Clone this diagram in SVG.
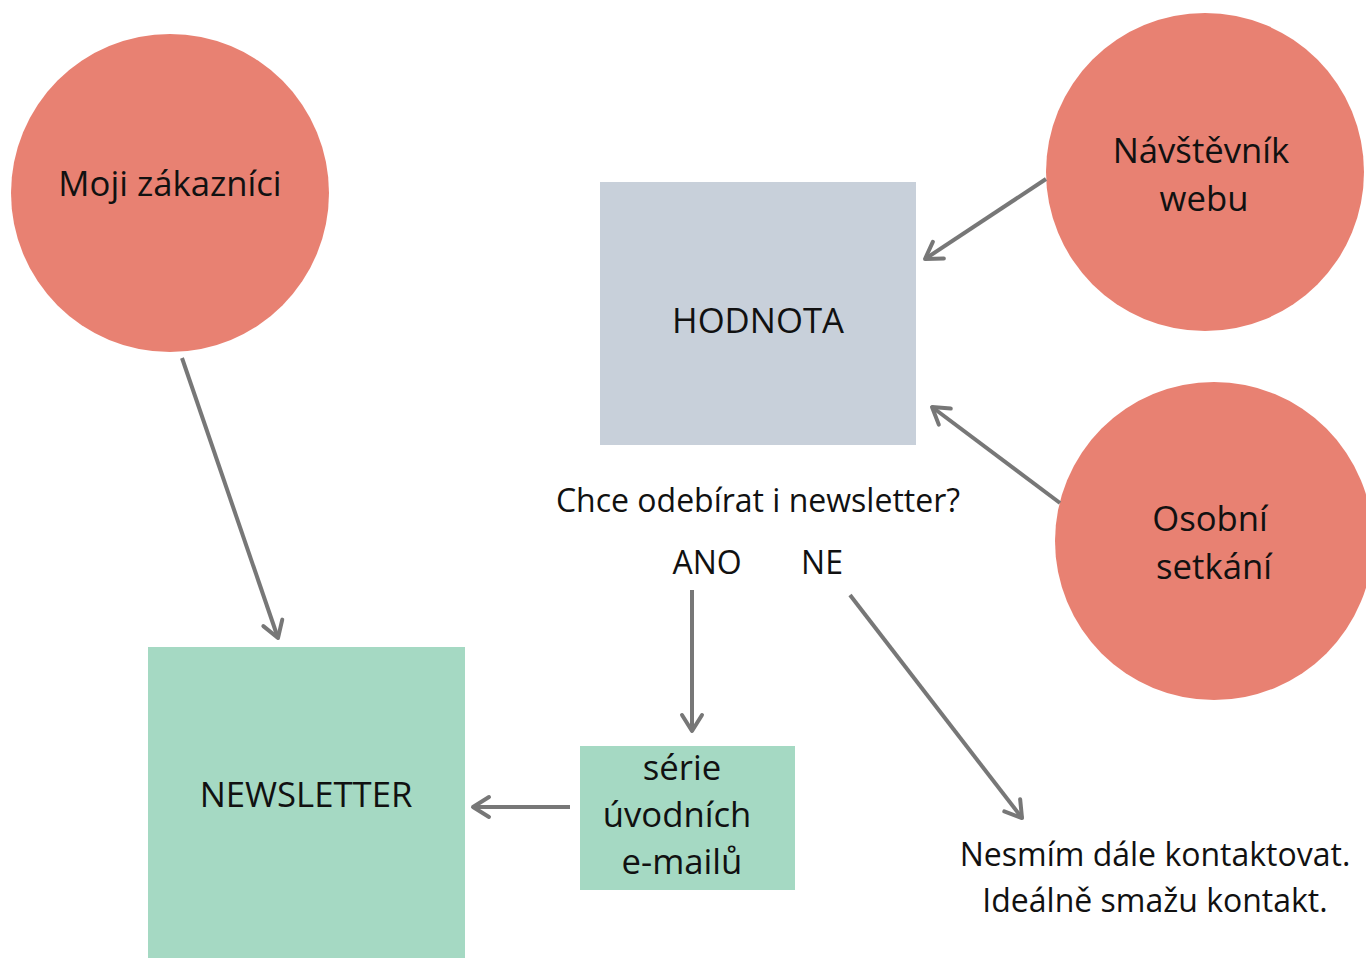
<svg xmlns="http://www.w3.org/2000/svg" width="1366" height="958" viewBox="0 0 1366 958">
  <defs>
    <style>
      .t { font-family: "Open Sans", "Liberation Sans", sans-serif; font-size: 32px; fill: #111; text-anchor: middle; }
      .n { font-size: 34.7px; }
      .circle { fill: #e88172; }
      .blue { fill: #c8d0da; }
      .green { fill: #a5d9c3; }
      .conn { stroke: #777; stroke-width: 4; fill: none; marker-end: url(#chev); }
    </style>
    <marker id="chev" markerUnits="userSpaceOnUse" markerWidth="30" markerHeight="30" refX="20" refY="15" orient="auto" viewBox="0 0 30 30">
      <polyline points="4,5 20,15 4,25" fill="none" stroke="#777" stroke-width="4" stroke-linecap="round" stroke-linejoin="round"/>
    </marker>
  </defs>
  <rect width="1366" height="958" fill="#fff"/>

  <g id="moji-zakaznici">
    <circle class="circle" cx="170" cy="193" r="159"/>
    <text class="t n" x="170" y="196">Moji zákazníci</text>
  </g>

  <g id="navstevnik-webu">
    <circle class="circle" cx="1205" cy="172" r="159"/>
    <text class="t n" x="1201" y="163">Návštěvník</text>
    <text class="t n" x="1204" y="211">webu</text>
  </g>

  <g id="osobni-setkani">
    <circle class="circle" cx="1214" cy="541" r="159"/>
    <text class="t n" x="1210" y="531">Osobní</text>
    <text class="t n" x="1214" y="579">setkání</text>
  </g>

  <g id="hodnota">
    <rect class="blue" x="600" y="182" width="316" height="263"/>
    <text class="t n" x="758" y="333">HODNOTA</text>
  </g>

  <g id="otazka">
    <text class="t" x="758" y="512">Chce odebírat i newsletter?</text>
    <text class="t" x="707" y="574">ANO</text>
    <text class="t" x="822" y="574">NE</text>
  </g>

  <g id="newsletter">
    <rect class="green" x="148" y="647" width="317" height="311"/>
    <text class="t n" x="306" y="807">NEWSLETTER</text>
  </g>

  <g id="serie-emailu">
    <rect class="green" x="580" y="746" width="215" height="144"/>
    <text class="t n" x="682" y="780">série</text>
    <text class="t n" x="677" y="827">úvodních</text>
    <text class="t n" x="682" y="874">e-mailů</text>
  </g>

  <g id="nesmim">
    <text class="t" x="1155" y="866">Nesmím dále kontaktovat.</text>
    <text class="t" x="1155" y="912">Ideálně smažu kontakt.</text>
  </g>

  <g id="connectors">
    <line class="conn" x1="182" y1="358" x2="278" y2="638" stroke-width="5"/>
    <line class="conn" x1="1046" y1="179" x2="925" y2="259"/>
    <line class="conn" x1="1060" y1="503" x2="932" y2="407"/>
    <line class="conn" x1="692" y1="590" x2="692" y2="731"/>
    <line class="conn" x1="850" y1="595" x2="1022" y2="818"/>
    <line class="conn" x1="570" y1="807" x2="473" y2="807"/>
  </g>
</svg>
